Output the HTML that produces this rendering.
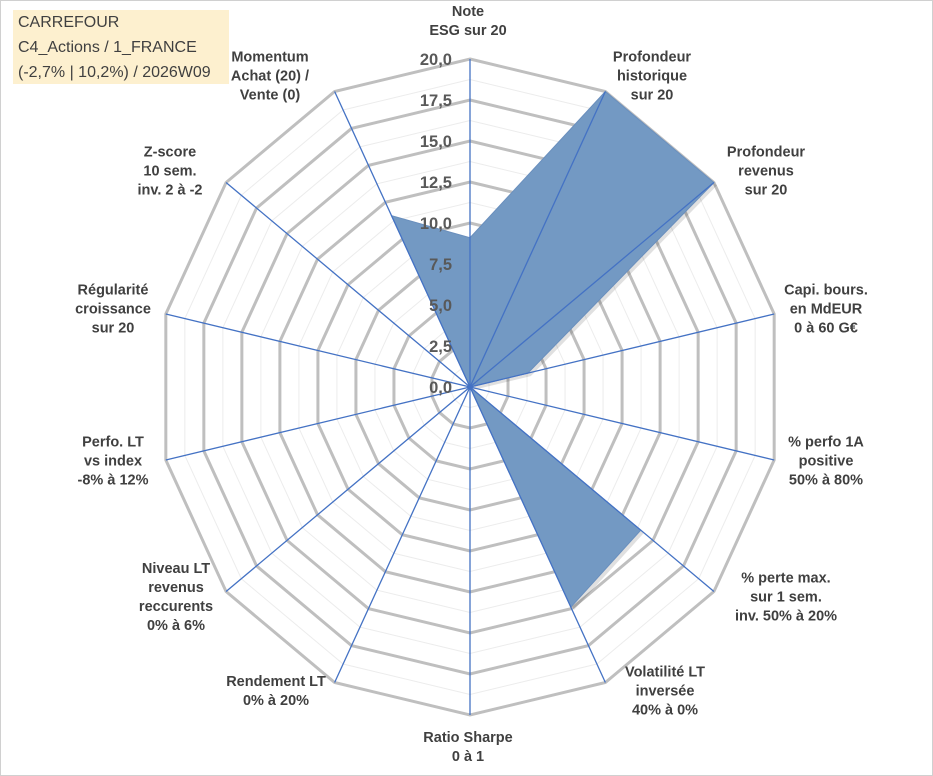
<!DOCTYPE html>
<html><head><meta charset="utf-8"><style>
body{margin:0;background:#fff;}
#wrap{position:relative;width:933px;height:776px;overflow:hidden;font-family:"Liberation Sans",sans-serif;}
#frame{position:absolute;left:0;top:0;width:931px;height:774px;border:1px solid #d0d0d0;}
.lbl{position:absolute;transform:translate(-50%,-50%);text-align:center;font-weight:bold;font-size:14.5px;line-height:19px;color:#404040;white-space:nowrap;}
#title{position:absolute;left:13px;top:10px;width:216px;height:74px;background:#fdf0cf;color:#404040;font-size:16px;line-height:25px;padding-left:5px;box-sizing:border-box;}
</style></head><body>
<div id="wrap">
<div id="frame"></div>
<svg id="chart" width="933" height="776" style="position:absolute;left:0;top:0"></svg>
<div id="title">CARREFOUR<br>C4_Actions / 1_FRANCE<br>(-2,7% | 10,2%) / 2026W09</div>
<div class="lbl" style="left:468px;top:22px">Note<br>ESG sur 20</div>
<div class="lbl" style="left:652px;top:77px">Profondeur<br>historique<br>sur 20</div>
<div class="lbl" style="left:766px;top:172px">Profondeur<br>revenus<br>sur 20</div>
<div class="lbl" style="left:826px;top:310px">Capi. bours.<br>en MdEUR<br>0 à 60 G€</div>
<div class="lbl" style="left:826px;top:462px">% perfo 1A<br>positive<br>50% à 80%</div>
<div class="lbl" style="left:786px;top:598px">% perte max.<br>sur 1 sem.<br>inv. 50% à 20%</div>
<div class="lbl" style="left:665px;top:692px">Volatilité LT<br>inversée<br>40% à 0%</div>
<div class="lbl" style="left:468px;top:748px">Ratio Sharpe<br>0 à 1</div>
<div class="lbl" style="left:276px;top:692px">Rendement LT<br>0% à 20%</div>
<div class="lbl" style="left:176px;top:598px">Niveau LT<br>revenus<br>reccurents<br>0% à 6%</div>
<div class="lbl" style="left:113px;top:462px">Perfo. LT<br>vs index<br>-8% à 12%</div>
<div class="lbl" style="left:113px;top:310px">Régularité<br>croissance<br>sur 20</div>
<div class="lbl" style="left:170px;top:172px">Z-score<br>10 sem.<br>inv. 2 à -2</div>
<div class="lbl" style="left:270px;top:77px">Momentum<br>Achat (20) /<br>Vente (0)</div>
</div>
<script>
const categories=["Note ESG","Profondeur historique","Profondeur revenus","Capi","Perfo 1A","Perte max","Volatilite","Ratio Sharpe","Rendement LT","Niveau LT","Perfo LT","Regularite","Z-score","Momentum"];
const values=[9.1,20,20,3.8,0,14.0,14.9,0,0,0,0,0,0,11.6];
const tickValues=[0,2.5,5,7.5,10,12.5,15,17.5,20];
const tickLabels=["0,0","2,5","5,0","7,5","10,0","12,5","15,0","17,5","20,0"];
const CX=470,CY=387,RX=312,RY=328,MAX=20;
const svg=document.getElementById('chart');
const NS="http://www.w3.org/2000/svg";
const n=categories.length;
function ang(i){return -Math.PI/2+i*2*Math.PI/n;}
function pt(i,v){const r=v/MAX;return [CX+r*RX*Math.cos(ang(i)),CY+r*RY*Math.sin(ang(i))];}
function mk(t,a){const e=document.createElementNS(NS,t);for(const k in a)e.setAttribute(k,a[k]);svg.appendChild(e);return e;}
for(let k=1;k<=16;k++){const v=k*1.25;const major=k%2===0;
 const p=categories.map((c,i)=>pt(i,v).join(',')).join(' ');
 const e=mk('polygon',{points:p,fill:'none',stroke:major?'#bfbfbf':'#ececec','stroke-width':major?3:1});
 
 }
const sh=mk('polygon',{points:values.map((v,i)=>{const p=pt(i,v);return (p[0]+3)+','+(p[1]+3)}).join(' '),fill:'rgba(0,0,0,0.12)'});


const poly=mk('polygon',{points:values.map((v,i)=>pt(i,v).join(',')).join(' '),fill:'#7399c3',stroke:'#6a8fbd','stroke-width':1});


categories.forEach((c,i)=>{const p=pt(i,MAX);
 const l=mk('line',{x1:CX,y1:CY,x2:p[0],y2:p[1],stroke:'#4472c4','stroke-width':1.3});
 
 });
tickValues.forEach((v,i)=>{const y=CY-v/MAX*RY;
 const t=mk('text',{x:CX-18,y:y+6,'text-anchor':'end','font-family':'Liberation Sans, sans-serif','font-size':16.5,'font-weight':'bold',fill:'#595959'});
 t.textContent=tickLabels[i];
 
 });
</script>
</body></html>
